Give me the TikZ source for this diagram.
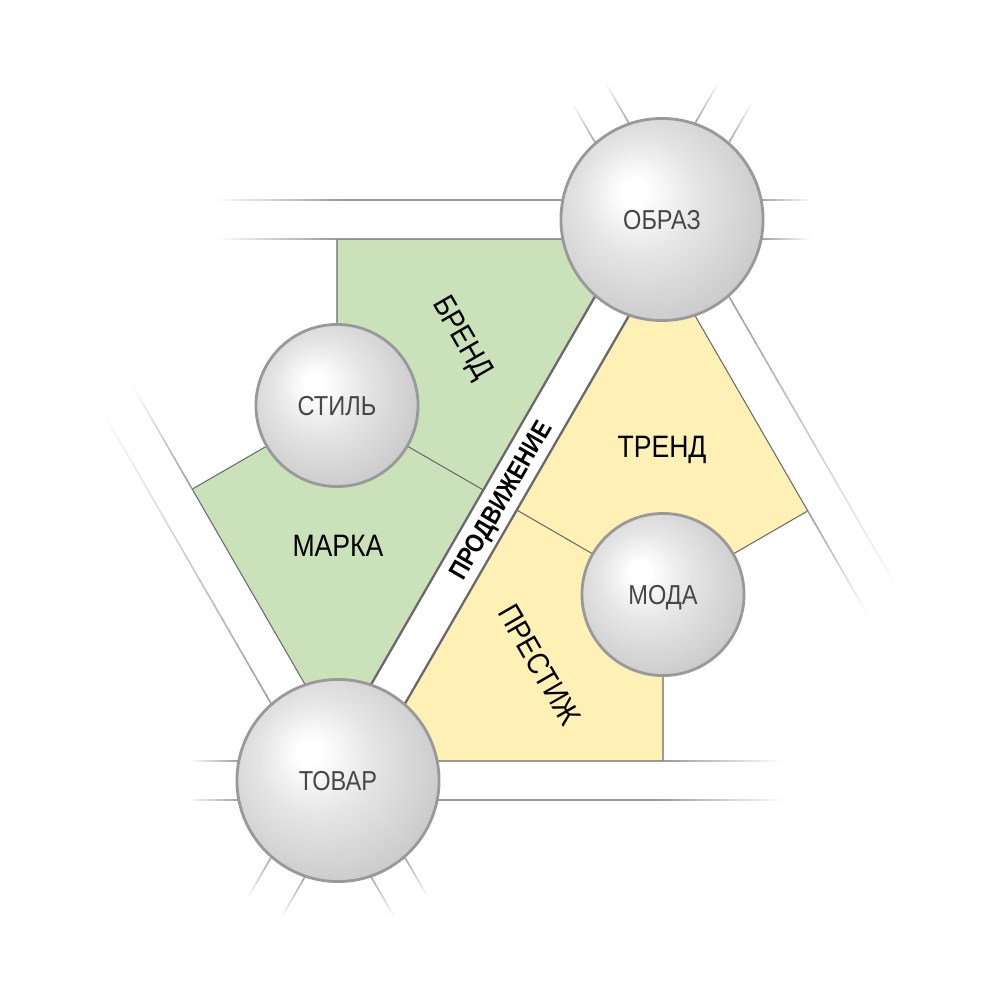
\documentclass[tikz,border=0pt]{standalone}
\usepackage{fontspec}
\setmainfont[FakeStretch=0.86]{Liberation Sans}
\usepackage{tikz}
\usetikzlibrary{calc}
\definecolor{greenzone}{HTML}{CAE1B9}
\definecolor{yellowzone}{HTML}{FFF0B5}
\definecolor{roadgray}{HTML}{9C9C9C}
\definecolor{edgegray}{HTML}{6A6A6A}
\definecolor{labelgray}{HTML}{474747}
\pgfdeclareradialshading{orb}{\pgfqpoint{-7.5bp}{7.5bp}}{color(0bp)=(white); color(3bp)=(white); color(14bp)=(black!10); color(36bp)=(black!25); color(50bp)=(black!25)}
\tikzstyle{bigorb} = [circle, draw=black!40, line width=0.8pt, shading=orb, minimum size=2.02cm, inner sep=0pt, font=\fontsize{7.8}{9}\selectfont, text=labelgray, text depth=0pt]
\tikzstyle{smallorb} = [bigorb, minimum size=1.62cm]
\tikzstyle{zone} = [draw=edgegray, line width=0.3pt]
\tikzstyle{road} = [line width=0.45pt]
\tikzstyle{stripedge} = [draw=edgegray, line width=0.65pt]
\tikzstyle{zonelabel} = [font=\fontsize{8.8}{10}\selectfont, text=black, text depth=0pt, inner sep=0pt]
\tikzstyle{striplabel} = [font=\fontsize{7.4}{9}\selectfont\bfseries, text=black, text depth=0pt, inner sep=0pt]
% road line that fades out from #1 to #2
\newcommand{\fadeline}[2]{%
  \foreach \k in {0,...,23}{%
    \pgfmathsetmacro{\pc}{100-100*(\k+0.5)/24}%
    \draw[road, draw=roadgray!\pc] ($(#1)!{\k/24}!(#2)$) -- ($(#1)!{(\k+1.2)/24}!(#2)$);
  }%
}

\begin{document}
\begin{tikzpicture}[x=0.01cm, y=-0.01cm]
		\useasboundingbox (0,0) rectangle (1000,1000);

		% Centres
		\coordinate (c_obraz) at (662,219.5);
		\coordinate (c_tovar) at (338,780.5);
		\coordinate (c_stil) at (337,405.5);
		\coordinate (c_moda) at (663,594.5);
		\coordinate (g_split) at (483.3,490);
		\coordinate (y_split) at (516.7,510);

		% Zones
		\filldraw[zone, fill=greenzone] (337,239) -- (628.2,239) -- (362.1,700) -- (314,700) -- (192.2,489.1) -- (c_stil) -- cycle;
		\filldraw[zone, fill=yellowzone] (663,761) -- (371.8,761) -- (637.9,300) -- (686,300) -- (807.8,510.9) -- (c_moda) -- cycle;

		% Roads
		\draw[road, draw=roadgray] (c_obraz |- 0,200) -- (340,200);
		\fadeline{340,200}{215,200}
		\fadeline{337,239}{215,239}
		\fadeline{758,200}{812,200}
		\fadeline{758,239}{812,239}
		\draw[road, draw=roadgray] (c_tovar |- 0,800) -- (660,800);
		\fadeline{660,800}{785,800}
		\fadeline{663,761}{785,761}
		\fadeline{242,800}{188,800}
		\fadeline{242,761}{188,761}
		\fadeline{192.2,489.1}{132.2,385}
		\fadeline{274.8,710}{97,402}
		\fadeline{807.8,510.9}{867.8,615}
		\fadeline{725.2,290}{903,598}
		\fadeline{692.3,128}{720,80}
		\fadeline{725.8,148}{753.5,100}
		\fadeline{598.2,148}{571.7,102}
		\fadeline{631.7,128}{605.1,82}
		\fadeline{307.7,872}{280,920}
		\fadeline{274.2,852}{246.5,900}
		\fadeline{401.8,852}{428.3,898}
		\fadeline{368.3,872}{394.9,918}

		% Strip
		\draw[stripedge] (633.4,230) -- (321.7,770);
		\draw[stripedge] (678.4,230) -- (366.7,770);
		\draw[zone] (c_stil) -- (g_split);
		\draw[zone] (c_moda) -- (y_split);

		% Nodes
		\node (obraz) [bigorb] at (c_obraz) {ОБРАЗ};
		\node (tovar) [bigorb] at (c_tovar) {ТОВАР};
		\node (stil) [smallorb] at (c_stil) {СТИЛЬ};
		\node (moda) [smallorb] at (c_moda) {МОДА};

		\node (brend) [zonelabel, rotate=-60] at (464,337) {БРЕНД};
		\node (marka) [zonelabel] at (338,546) {МАРКА};
		\node (trend) [zonelabel] at (662,447) {ТРЕНД};
		\node (prestizh) [zonelabel, rotate=-60] at (540,665) {ПРЕСТИЖ};
		\node (prodv) [striplabel, rotate=60] at (500,500) {ПРОДВИЖЕНИЕ};
\end{tikzpicture}
\end{document}
